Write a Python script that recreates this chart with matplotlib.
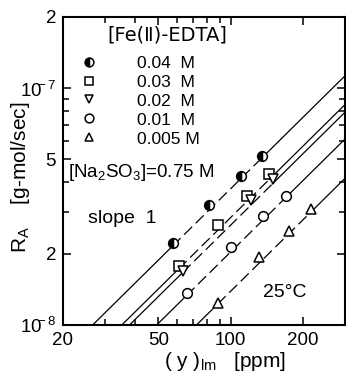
import matplotlib
matplotlib.use('Agg')
import matplotlib.pyplot as plt
import numpy as np
from matplotlib.ticker import FixedLocator, NullFormatter

plt.rcParams['font.family'] = ['Liberation Sans', 'DejaVu Sans']
plt.rcParams['mathtext.fontset'] = 'custom'
plt.rcParams['mathtext.rm'] = 'Liberation Sans'

# Fe(II)-EDTA concentrations and measured absorption rates
conc_labels = ['0.04  M', '0.03  M', '0.02  M', '0.01  M', '0.005 M']
y_lm = [
    [57.3, 81.0, 111.0, 134.6],
    [60.7, 88.3, 116.6, 145.0],
    [63.1, 122.0, 149.6],
    [65.5, 100.0, 136.0, 169.5],
    [88.3, 132.0, 176.0, 217.5],
]
rate = [
    [2.22e-8, 3.22e-8, 4.24e-8, 5.15e-8],
    [1.78e-8, 2.65e-8, 3.52e-8, 4.36e-8],
    [1.69e-8, 3.38e-8, 4.12e-8],
    [1.37e-8, 2.14e-8, 2.90e-8, 3.52e-8],
    [1.24e-8, 1.94e-8, 2.50e-8, 3.10e-8],
]
# slope-1 lines, given as the (y)lm where R_A = 1e-8
line_x0 = [26.6, 35.2, 37.9, 49.2, 72.1]
markers = ['o', 's', 'v', 'o', '^']

x_lim = (20, 300)
y_lim = (1e-8, 2e-7)

fig = plt.figure(figsize=(3.46, 3.77), dpi=100)
ax = fig.add_axes([0.182, 0.138, 0.815, 0.817])
ax.set_xscale('log')
ax.set_yscale('log')
ax.set_xlim(*x_lim)
ax.set_ylim(*y_lim)

lw = 0.9
handles = []
for i in range(5):
    xs = np.array(y_lm[i])
    ys = np.array(rate[i])
    k = 1e-8 / line_x0[i]
    # solid extrapolation outside the data, dashed through it
    xl = np.array([x_lim[0], xs.min()])
    ax.plot(xl, k * xl, color='black', lw=lw)
    xr = np.array([xs.max(), x_lim[1]])
    ax.plot(xr, k * xr, color='black', lw=lw)
    xm = np.array([xs.min(), xs.max()])
    ax.plot(xm, k * xm, color='black', lw=lw, dashes=(9, 4))
    if i == 0:
        h, = ax.plot(xs, ys, ls='none', marker='o', ms=7, mec='black',
                     mfc='black', mfcalt='white', fillstyle='left', mew=1.1)
    else:
        h, = ax.plot(xs, ys, ls='none', marker=markers[i], ms=7, mec='black',
                     mfc='white', mew=1.1)
    h.set_label(conc_labels[i])
    handles.append(h)

ax.legend(handles=handles, loc='upper left', bbox_to_anchor=(0.06, 0.875),
          frameon=False, fontsize=12.5, handlelength=1.0, handletextpad=2.3,
          labelspacing=0.22, borderpad=0, borderaxespad=0, markerscale=0.9)

ax.text(0.369, 0.942, '[Fe(Ⅱ)-EDTA]', transform=ax.transAxes, fontsize=14,
        ha='center', va='center', family=['DejaVu Sans'])
ax.text(0.018, 0.494, r'[Na$_2$SO$_3$]=0.75 M', transform=ax.transAxes,
        fontsize=13.5, ha='left', va='center')
ax.text(0.089, 0.347, 'slope  1', transform=ax.transAxes, fontsize=14,
        ha='left', va='center')
ax.text(0.709, 0.107, '25°C', transform=ax.transAxes, fontsize=14,
        ha='left', va='center')

# ticks
ax.xaxis.set_major_locator(FixedLocator([20, 50, 100, 200]))
ax.xaxis.set_minor_locator(FixedLocator([30, 40, 60, 70, 80, 90, 300]))
ax.set_xticklabels(['20', '50', '100', '200'])
ax.xaxis.set_minor_formatter(NullFormatter())

ax.yaxis.set_major_locator(FixedLocator([1e-8, 2e-8, 5e-8, 1e-7, 2e-7]))
ax.yaxis.set_minor_locator(FixedLocator([3e-8, 4e-8, 6e-8, 7e-8, 8e-8, 9e-8]))
ax.set_yticklabels([r'$10^{\!\!\!-8}$', '2', '5', r'$10^{\!\!\!-7}$', '2'])
ax.yaxis.set_minor_formatter(NullFormatter())

ax.tick_params(which='both', direction='in', top=True, right=True,
               labelsize=13.5, width=1.1)
ax.tick_params(which='major', length=6, pad=5)
ax.tick_params(which='minor', length=4)
for s in ax.spines.values():
    s.set_linewidth(1.5)

ax.set_ylabel(r'R$_{\rm A}$    [g-mol/sec]', fontsize=15)
ax.yaxis.set_label_coords(-0.11, 0.478)
ax.set_xlabel(r'( y )$_{\rm lm}$   [ppm]', fontsize=15)
ax.xaxis.set_label_coords(0.574, -0.08)

fig.savefig('out.png', dpi=100)
